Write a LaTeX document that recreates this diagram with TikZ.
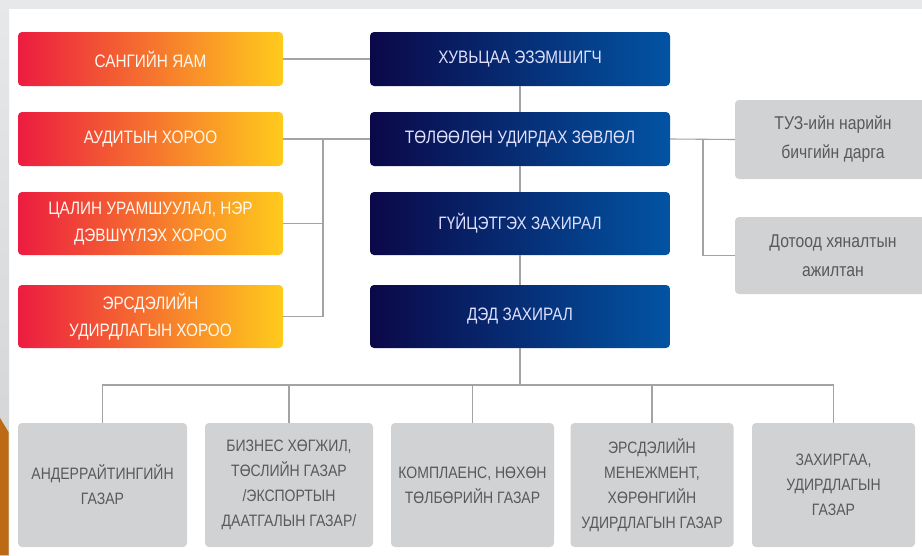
\documentclass[tikz,border=0pt]{standalone}
\usepackage{fontspec}
\setmainfont{Liberation Sans}[FakeStretch=0.85]
\definecolor{ored}{HTML}{EC1C40}
\definecolor{omid}{HTML}{F27A3A}
\definecolor{oyel}{HTML}{FFCB1C}
\definecolor{nleft}{HTML}{0B0848}
\definecolor{nright}{HTML}{0254A3}
\definecolor{gbox}{HTML}{D1D2D4}
\definecolor{gtext}{HTML}{58595B}
\definecolor{lnc}{HTML}{A3A3A3}
\definecolor{bgg}{HTML}{E6E8E9}
\definecolor{bgo}{HTML}{BD6A14}
\tikzset{
  obox/.style={rounded corners=4pt, left color=ored, middle color=omid, right color=oyel,
    text=white!94!orange, minimum width=265pt, align=center,
    font=\fontsize{18}{26.5}\selectfont, inner sep=0pt},
  nbox/.style={rounded corners=4pt, left color=nleft, right color=nright,
    text=white!88!blue, minimum width=300pt, align=center,
    font=\fontsize{18}{26.5}\selectfont, inner sep=0pt},
  gboxs/.style={rounded corners=4pt, fill=gbox, text=gtext, align=center,
    font=\fontsize{16.5}{25}\selectfont, inner sep=0pt},
  conn/.style={draw=lnc, line width=1.1pt}
}
\begin{document}
\begin{tikzpicture}[x=1pt,y=-1pt]
\useasboundingbox (0,0) rectangle (922,555);
\clip (0,0) rectangle (922,555);
\fill[white] (0,0) rectangle (922,555);
\fill[bgg] (0,0) rectangle (922,9);
\shade[top color=bgg, bottom color=bgg!90!black] (0,0) rectangle (9,555);
\fill[bgo] (0,418) -- (8.5,432) -- (8.5,555) -- (0,555) -- cycle;

% orange boxes
\node[obox, minimum height=54pt] (o1) at (150.5,59) {САНГИЙН ЯАМ};
\node[obox, minimum height=54pt] (o2) at (150.5,139) {АУДИТЫН ХОРОО};
\node[obox, minimum height=63pt] (o3) at (150.5,223.5) {ЦАЛИН УРАМШУУЛАЛ, НЭР\\ДЭВШҮҮЛЭХ ХОРОО};
\node[obox, minimum height=63pt] (o4) at (150.5,316.5) {ЭРСДЭЛИЙН\\УДИРДЛАГЫН ХОРОО};

% navy boxes
\node[nbox, minimum height=54pt] (n1) at (520,59) {ХУВЬЦАА ЭЗЭМШИГЧ};
\node[nbox, minimum height=54pt] (n2) at (520,139) {ТӨЛӨӨЛӨН УДИРДАХ ЗӨВЛӨЛ};
\node[nbox, minimum height=63pt] (n3) at (520,223.5) {ГҮЙЦЭТГЭХ ЗАХИРАЛ};
\node[nbox, minimum height=63pt] (n4) at (520,316.5) {ДЭД ЗАХИРАЛ};

% right gray boxes
\node[gboxs, minimum width=196pt, minimum height=79pt, font=\fontsize{18.5}{29}\selectfont] (g1) at (833,139.5) {ТУЗ-ийн нарийн\\бичгийн дарга};
\node[gboxs, minimum width=196pt, minimum height=77pt, font=\fontsize{18.5}{29}\selectfont] (g2) at (833,255.5) {Дотоод хяналтын\\ажилтан};

% bottom boxes
\node[gboxs, minimum width=169pt, minimum height=124pt] (b1) at (102.5,485) {АНДЕРРАЙТИНГИЙН\\ГАЗАР};
\node[gboxs, minimum width=168pt, minimum height=124pt] (b2) at (289,485) {БИЗНЕС ХӨГЖИЛ,\\ТӨСЛИЙН ГАЗАР\\/ЭКСПОРТЫН\\ДААТГАЛЫН ГАЗАР/};
\node[gboxs, minimum width=163pt, minimum height=124pt] (b3) at (472.5,485) {КОМПЛАЕНС, НӨХӨН\\ТӨЛБӨРИЙН ГАЗАР};
\node[gboxs, minimum width=163pt, minimum height=124pt] (b4) at (652,485) {ЭРСДЭЛИЙН\\МЕНЕЖМЕНТ,\\ХӨРӨНГИЙН\\УДИРДЛАГЫН ГАЗАР};
\node[gboxs, minimum width=163pt, minimum height=124pt] (b5) at (833.5,485) {ЗАХИРГАА,\\УДИРДЛАГЫН\\ГАЗАР};

% junction coordinates
\coordinate (jl) at (323,139);
\coordinate (jr) at (703,139);
\coordinate (bus) at (520,385);

% connectors
\draw[conn] (o1.east) -- (n1.west);
\draw[conn] (o2.east) -- (n2.west);
\draw[conn] (o3.east) -- (o3.east -| jl);
\draw[conn] (jl) |- (o4.east);
\draw[conn] (n1.south) -- (n2.north);
\draw[conn] (n2.south) -- (n3.north);
\draw[conn] (n3.south) -- (n4.north);
\draw[conn] (n4.south) -- (bus);
\draw[conn] (n2.east) -- (g1.west);
\draw[conn] (jr) |- (g2.west);
\draw[conn] (b1.north) |- (bus) -| (b5.north);
\draw[conn] (b2.north) -- (b2.north |- bus);
\draw[conn] (b3.north) -- (b3.north |- bus);
\draw[conn] (b4.north) -- (b4.north |- bus);
\end{tikzpicture}
\end{document}
